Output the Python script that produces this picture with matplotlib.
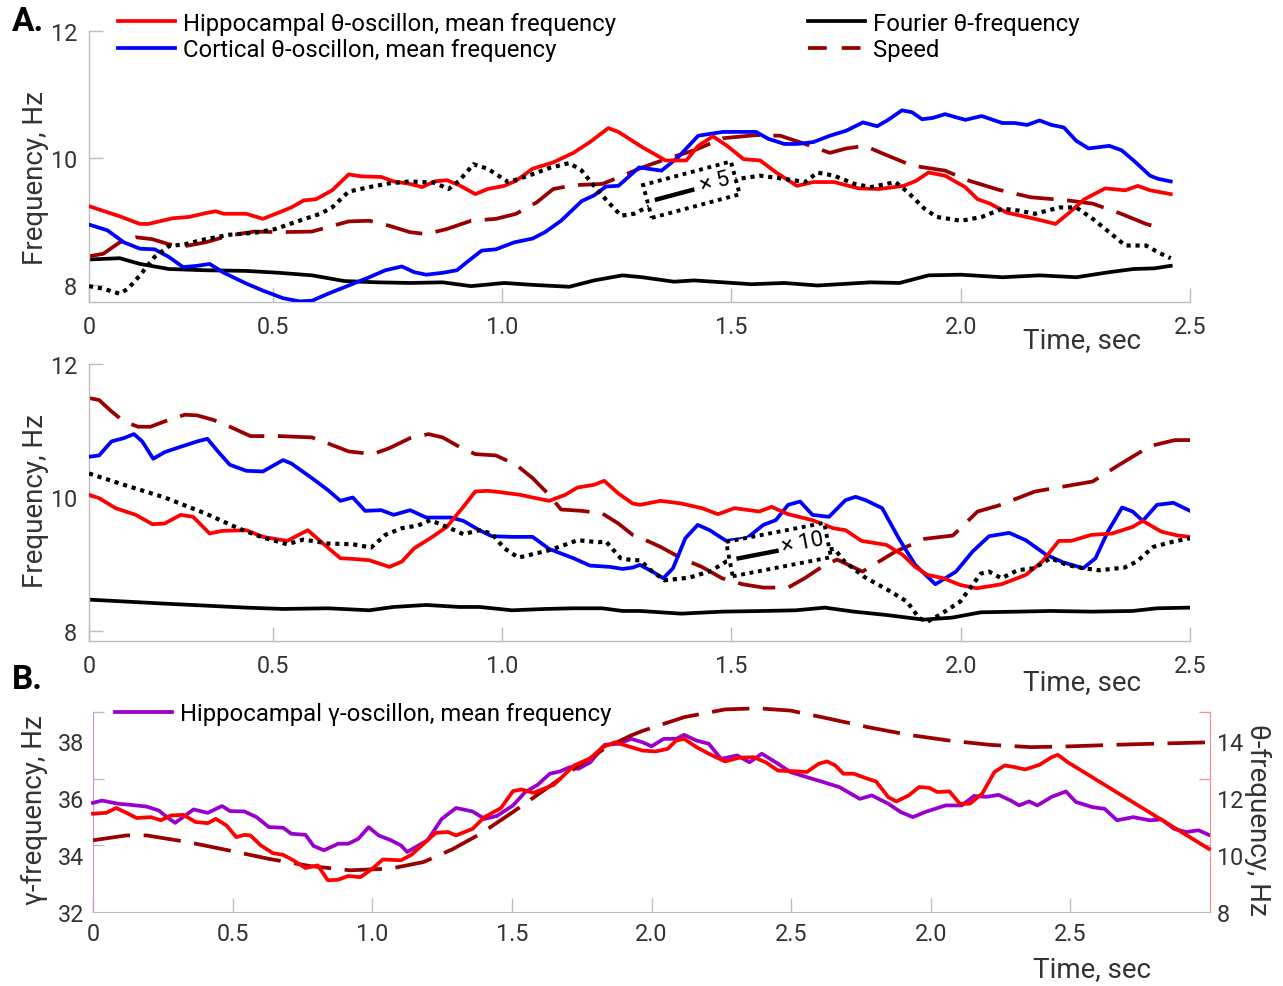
import matplotlib
matplotlib.use("Agg")
import matplotlib.pyplot as plt
import matplotlib.transforms as mtransforms
from matplotlib.lines import Line2D
from matplotlib.patches import Rectangle
from matplotlib.ticker import FixedLocator
import numpy as np

plt.rcParams['font.family'] = ['Roboto', 'DejaVu Sans']

# ---------------- data (time, value) ----------------
# Panel A (top): time in s, frequency in Hz
a1_hippo = [(0.100,9.24),(0.167,9.08),(0.211,8.96),(0.229,8.96),(0.283,9.05),(0.318,9.07),(0.354,9.13),(0.376,9.16),(0.394,9.12),(0.443,9.12),(0.479,9.04),(0.514,9.14),(0.541,9.22),(0.568,9.33),(0.595,9.35),(0.630,9.49),(0.666,9.74),(0.693,9.71),(0.737,9.70),(0.764,9.63),(0.800,9.59),(0.826,9.54),(0.853,9.63),(0.880,9.65),(0.907,9.57),(0.942,9.43),(0.969,9.51),(1.005,9.56),(1.031,9.64),(1.067,9.83),(1.112,9.93),(1.156,10.08),(1.192,10.25),(1.232,10.47),(1.254,10.41),(1.306,10.17),(1.357,9.96),(1.402,9.96),(1.428,10.19),(1.460,10.34),(1.491,10.19),(1.527,9.98),(1.563,9.96),(1.598,9.77),(1.643,9.56),(1.679,9.62),(1.724,9.62),(1.778,9.52),(1.822,9.51),(1.876,9.56),(1.903,9.64),(1.930,9.77),(1.966,9.72),(2.010,9.54),(2.037,9.35),(2.064,9.28),(2.100,9.14),(2.162,9.04),(2.207,8.96),(2.234,9.12),(2.270,9.35),(2.315,9.52),(2.359,9.49),(2.386,9.56),(2.413,9.49),(2.458,9.43)]
a1_cortex = [(0.100,8.95),(0.140,8.86),(0.176,8.67),(0.211,8.57),(0.243,8.56),(0.274,8.44),(0.305,8.28),(0.336,8.30),(0.363,8.33),(0.394,8.19),(0.443,8.02),(0.479,7.91),(0.523,7.79),(0.559,7.74),(0.586,7.75),(0.621,7.86),(0.666,7.99),(0.711,8.12),(0.746,8.23),(0.782,8.29),(0.809,8.20),(0.835,8.16),(0.871,8.19),(0.902,8.23),(0.924,8.36),(0.956,8.54),(0.987,8.56),(1.027,8.67),(1.067,8.73),(1.094,8.83),(1.129,9.01),(1.174,9.32),(1.201,9.41),(1.227,9.55),(1.254,9.56),(1.299,9.85),(1.348,9.80),(1.384,10.01),(1.428,10.35),(1.482,10.41),(1.554,10.41),(1.581,10.30),(1.616,10.22),(1.643,10.22),(1.679,10.25),(1.715,10.35),(1.751,10.43),(1.787,10.56),(1.818,10.50),(1.840,10.59),(1.872,10.75),(1.894,10.72),(1.916,10.61),(1.939,10.63),(1.966,10.69),(2.010,10.60),(2.046,10.66),(2.091,10.55),(2.118,10.55),(2.145,10.52),(2.172,10.59),(2.198,10.52),(2.225,10.48),(2.252,10.27),(2.279,10.15),(2.324,10.19),(2.351,10.12),(2.377,9.96),(2.413,9.72),(2.431,9.67),(2.458,9.63)]
a1_fourier = [(0.100,8.40),(0.167,8.42),(0.211,8.33),(0.274,8.25),(0.354,8.23),(0.443,8.22),(0.514,8.19),(0.586,8.15),(0.657,8.06),(0.728,8.04),(0.800,8.03),(0.871,8.04),(0.933,7.98),(1.005,8.03),(1.067,8.00),(1.147,7.97),(1.201,8.07),(1.263,8.15),(1.306,8.12),(1.375,8.05),(1.419,8.07),(1.545,8.01),(1.616,8.03),(1.688,7.99),(1.804,8.04),(1.867,8.03),(1.930,8.15),(2.001,8.16),(2.091,8.12),(2.172,8.15),(2.252,8.12),(2.324,8.20),(2.377,8.25),(2.422,8.26),(2.458,8.30)]
a1_scaled = [(0.100,7.98),(0.131,7.94),(0.167,7.86),(0.185,7.94),(0.211,8.15),(0.243,8.44),(0.274,8.61),(0.309,8.64),(0.354,8.72),(0.407,8.79),(0.461,8.82),(0.506,8.88),(0.550,8.99),(0.604,9.12),(0.630,9.22),(0.666,9.47),(0.711,9.54),(0.755,9.60),(0.800,9.63),(0.853,9.61),(0.884,9.51),(0.907,9.64),(0.938,9.90),(0.969,9.83),(1.014,9.62),(1.058,9.72),(1.103,9.84),(1.147,9.92),(1.174,9.80),(1.194,9.62),(1.210,9.48),(1.231,9.31),(1.260,9.09),(1.288,9.12),(1.310,9.20),(1.360,9.35),(1.420,9.50),(1.470,9.60),(1.515,9.67),(1.563,9.72),(1.616,9.67),(1.661,9.62),(1.688,9.77),(1.724,9.72),(1.769,9.59),(1.804,9.54),(1.858,9.62),(1.885,9.46),(1.921,9.20),(1.948,9.07),(2.001,9.01),(2.046,9.07),(2.091,9.20),(2.127,9.17),(2.162,9.12),(2.216,9.22),(2.252,9.22),(2.288,9.04),(2.324,8.83),(2.359,8.62),(2.404,8.62),(2.431,8.51),(2.458,8.42)]
a1_speed = [(0.100,8.45),(0.131,8.49),(0.167,8.67),(0.202,8.75),(0.238,8.72),(0.274,8.64),(0.309,8.61),(0.354,8.67),(0.407,8.78),(0.461,8.84),(0.514,8.83),(0.586,8.84),(0.621,8.91),(0.666,9.00),(0.711,9.01),(0.755,8.93),(0.800,8.83),(0.835,8.80),(0.880,8.88),(0.933,9.01),(0.987,9.04),(1.031,9.12),(1.076,9.30),(1.112,9.51),(1.156,9.57),(1.219,9.59),(1.263,9.72),(1.306,9.85),(1.357,9.98),(1.419,10.12),(1.482,10.31),(1.554,10.36),(1.607,10.35),(1.661,10.22),(1.715,10.08),(1.751,10.15),(1.791,10.19),(1.840,10.04),(1.894,9.88),(1.966,9.80),(2.019,9.64),(2.082,9.50),(2.153,9.38),(2.234,9.33),(2.288,9.28),(2.350,9.12),(2.404,8.96),(2.440,8.89)]

# Panel A (bottom)
a2_hippo = [(0.100,10.04),(0.122,9.99),(0.158,9.84),(0.202,9.74),(0.238,9.60),(0.265,9.61),(0.300,9.74),(0.327,9.71),(0.363,9.46),(0.390,9.50),(0.443,9.51),(0.479,9.41),(0.532,9.35),(0.577,9.51),(0.612,9.30),(0.648,9.09),(0.675,9.08),(0.711,9.06),(0.755,8.96),(0.782,9.04),(0.809,9.24),(0.844,9.39),(0.880,9.56),(0.916,9.86),(0.942,10.09),(0.969,10.10),(0.996,10.08),(1.040,10.04),(1.067,10.00),(1.103,9.95),(1.138,10.04),(1.165,10.15),(1.201,10.19),(1.223,10.25),(1.254,10.06),(1.285,9.91),(1.301,9.89),(1.346,9.95),(1.391,9.91),(1.436,9.84),(1.471,9.75),(1.507,9.84),(1.561,9.79),(1.588,9.86),(1.624,9.75),(1.677,9.66),(1.722,9.54),(1.749,9.51),(1.784,9.35),(1.838,9.29),(1.874,9.14),(1.901,8.96),(1.928,8.84),(1.963,8.79),(1.999,8.69),(2.035,8.64),(2.089,8.70),(2.142,8.84),(2.178,9.04),(2.214,9.35),(2.241,9.35),(2.285,9.44),(2.330,9.46),(2.375,9.56),(2.397,9.65),(2.437,9.49),(2.473,9.43),(2.500,9.41)]
a2_cortex = [(0.100,10.61),(0.122,10.63),(0.149,10.84),(0.176,10.89),(0.198,10.95),(0.216,10.84),(0.240,10.58),(0.265,10.68),(0.300,10.76),(0.336,10.84),(0.358,10.88),(0.381,10.69),(0.407,10.49),(0.443,10.40),(0.479,10.39),(0.523,10.56),(0.541,10.51),(0.586,10.29),(0.621,10.11),(0.648,9.95),(0.675,10.00),(0.702,9.80),(0.737,9.81),(0.764,9.74),(0.800,9.81),(0.835,9.70),(0.889,9.70),(0.916,9.65),(0.951,9.51),(0.978,9.42),(1.022,9.41),(1.067,9.41),(1.103,9.23),(1.156,9.09),(1.192,8.98),(1.236,8.96),(1.263,8.93),(1.285,8.95),(1.301,8.99),(1.328,8.89),(1.352,8.79),(1.373,8.94),(1.400,9.39),(1.427,9.59),(1.453,9.51),(1.489,9.35),(1.534,9.39),(1.570,9.59),(1.597,9.66),(1.624,9.89),(1.650,9.94),(1.677,9.74),(1.713,9.71),(1.749,9.96),(1.771,10.01),(1.793,9.96),(1.829,9.84),(1.865,9.39),(1.901,8.99),(1.945,8.70),(1.990,8.89),(2.026,9.19),(2.062,9.42),(2.106,9.47),(2.142,9.36),(2.187,9.14),(2.223,9.03),(2.267,8.94),(2.294,9.09),(2.321,9.49),(2.352,9.85),(2.375,9.79),(2.397,9.65),(2.428,9.89),(2.464,9.92),(2.500,9.80)]
a2_fourier = [(0.100,8.47),(0.265,8.41),(0.443,8.35),(0.523,8.33),(0.621,8.34),(0.711,8.31),(0.764,8.36),(0.835,8.39),(0.907,8.36),(0.951,8.36),(1.022,8.31),(1.094,8.33),(1.156,8.34),(1.219,8.34),(1.263,8.30),(1.301,8.30),(1.391,8.26),(1.480,8.29),(1.570,8.30),(1.641,8.31),(1.704,8.35),(1.767,8.29),(1.838,8.24),(1.919,8.17),(1.981,8.20),(2.044,8.28),(2.124,8.29),(2.196,8.30),(2.285,8.29),(2.375,8.30),(2.428,8.34),(2.500,8.35)]
a2_scaled = [(0.100,10.36),(0.176,10.19),(0.265,10.00),(0.354,9.76),(0.425,9.54),(0.479,9.40),(0.532,9.30),(0.568,9.37),(0.621,9.31),(0.675,9.30),(0.715,9.25),(0.746,9.44),(0.782,9.54),(0.817,9.58),(0.844,9.66),(0.880,9.56),(0.916,9.45),(0.951,9.51),(0.978,9.46),(1.005,9.24),(1.036,9.10),(1.067,9.15),(1.103,9.21),(1.129,9.27),(1.165,9.36),(1.210,9.33),(1.227,9.34),(1.259,9.09),(1.285,9.06),(1.301,9.06),(1.328,8.89),(1.355,8.76),(1.409,8.80),(1.456,8.90),(1.489,9.04),(1.550,9.10),(1.620,9.15),(1.680,9.20),(1.725,9.23),(1.747,9.04),(1.790,8.81),(1.845,8.60),(1.883,8.44),(1.910,8.19),(1.928,8.14),(1.954,8.24),(1.999,8.44),(2.044,8.86),(2.062,8.89),(2.089,8.79),(2.124,8.91),(2.160,8.94),(2.196,9.09),(2.232,8.99),(2.267,8.94),(2.303,8.91),(2.357,8.95),(2.384,9.04),(2.420,9.26),(2.464,9.34),(2.500,9.39)]
a2_speed = [(0.100,11.49),(0.122,11.46),(0.149,11.29),(0.176,11.14),(0.207,11.06),(0.234,11.06),(0.265,11.14),(0.309,11.24),(0.336,11.23),(0.372,11.16),(0.407,11.06),(0.452,10.92),(0.514,10.92),(0.586,10.90),(0.621,10.81),(0.666,10.69),(0.719,10.65),(0.755,10.74),(0.800,10.89),(0.840,10.95),(0.871,10.90),(0.907,10.76),(0.942,10.65),(0.987,10.63),(1.031,10.49),(1.067,10.29),(1.103,10.04),(1.129,9.82),(1.174,9.80),(1.219,9.76),(1.254,9.61),(1.285,9.44),(1.301,9.40),(1.346,9.26),(1.391,9.09),(1.436,8.96),(1.480,8.79),(1.525,8.70),(1.570,8.65),(1.624,8.65),(1.660,8.79),(1.704,8.99),(1.731,9.07),(1.786,8.89),(1.858,9.19),(1.921,9.38),(1.983,9.43),(2.037,9.79),(2.083,9.88),(2.162,10.09),(2.288,10.24),(2.341,10.47),(2.413,10.77),(2.467,10.86),(2.500,10.86)]

# Panel B: sample position, gamma (left axis) / theta (right axis)
b_gamma = [(0.000,35.82),(0.032,35.90),(0.090,35.79),(0.134,35.75),(0.192,35.69),(0.236,35.55),(0.265,35.32),(0.294,35.12),(0.331,35.38),(0.360,35.59),(0.411,35.47),(0.462,35.71),(0.491,35.53),(0.542,35.52),(0.586,35.32),(0.630,34.97),(0.681,34.95),(0.710,34.74),(0.761,34.70),(0.790,34.31),(0.827,34.16),(0.878,34.39),(0.914,34.39),(0.950,34.56),(0.987,34.97),(1.023,34.68),(1.067,34.51),(1.103,34.33),(1.125,34.10),(1.155,34.27),(1.198,34.51),(1.249,35.26),(1.300,35.64),(1.359,35.52),(1.402,35.26),(1.446,35.36),(1.504,35.73),(1.548,36.20),(1.592,36.45),(1.636,36.84),(1.672,36.92),(1.708,37.07),(1.738,37.01),(1.781,37.24),(1.832,37.85),(1.883,37.89),(1.927,38.06),(1.968,37.94),(2.000,37.80),(2.044,38.06),(2.088,38.06),(2.117,38.20),(2.161,38.00),(2.205,37.89),(2.249,37.36),(2.307,37.48),(2.351,37.24),(2.395,37.54),(2.453,37.19),(2.497,36.90),(2.556,36.72),(2.614,36.55),(2.673,36.37),(2.746,35.96),(2.789,36.08),(2.848,35.79),(2.892,35.50),(2.936,35.32),(2.980,35.50),(3.053,35.73),(3.111,35.73),(3.155,36.06),(3.199,36.03),(3.243,36.10),(3.287,35.90),(3.316,35.73),(3.352,35.87),(3.382,35.73),(3.433,36.03),(3.484,36.22),(3.520,35.85),(3.579,35.67),(3.623,35.61),(3.667,35.21),(3.725,35.32),(3.784,35.21),(3.827,35.24),(3.871,34.91),(3.915,34.80),(3.959,34.86),(3.996,34.70)]
b_theta = [(0.000,11.44),(0.047,11.47),(0.083,11.64),(0.120,11.47),(0.156,11.29),(0.207,11.32),(0.243,11.21),(0.280,11.38),(0.324,11.40),(0.367,11.15),(0.411,11.11),(0.440,11.26),(0.478,11.03),(0.513,10.62),(0.542,10.70),(0.564,10.68),(0.601,10.33),(0.644,10.06),(0.681,10.00),(0.717,9.81),(0.761,9.54),(0.805,9.63),(0.841,9.11),(0.878,9.13),(0.914,9.26),(0.958,9.22),(1.001,9.52),(1.038,9.84),(1.103,9.81),(1.140,10.00),(1.198,10.51),(1.227,10.77),(1.271,10.80),(1.300,10.68),(1.359,10.91),(1.402,11.32),(1.461,11.64),(1.504,12.23),(1.534,12.29),(1.577,12.17),(1.650,12.45),(1.723,13.13),(1.781,13.38),(1.825,13.77),(1.869,13.94),(1.927,13.77),(1.968,13.65),(2.015,13.62),(2.058,13.71),(2.088,14.00),(2.117,14.06),(2.161,13.77),(2.205,13.54),(2.263,13.27),(2.314,13.40),(2.366,13.42),(2.409,13.24),(2.453,12.95),(2.526,12.92),(2.556,12.90),(2.599,13.19),(2.629,13.27),(2.658,13.13),(2.687,12.84),(2.724,12.84),(2.775,12.66),(2.804,12.57),(2.848,12.02),(2.877,11.87),(2.921,12.08),(2.958,12.37),(2.994,12.35),(3.023,12.20),(3.067,12.22),(3.104,11.79),(3.140,11.79),(3.184,12.14),(3.228,12.90),(3.265,13.13),(3.301,13.07),(3.338,12.99),(3.389,13.15),(3.433,13.42),(3.455,13.50),(3.491,13.24),(3.996,10.21)]
b_speed = [(0.000,10.51),(0.120,10.68),(0.192,10.68),(0.338,10.45),(0.484,10.16),(0.630,9.86),(0.776,9.61),(0.921,9.46),(1.067,9.52),(1.184,9.75),(1.286,10.19),(1.388,10.74),(1.504,11.50),(1.606,12.20),(1.723,13.01),(1.840,13.77),(1.927,14.18),(1.971,14.35),(2.117,14.82),(2.263,15.09),(2.380,15.13),(2.497,15.05),(2.629,14.78),(2.775,14.47),(2.921,14.20),(3.067,14.00),(3.213,13.85),(3.360,13.77),(3.506,13.80),(3.652,13.85),(3.798,13.89),(4.003,13.94)]

# tick values / labels
a_xticks = [0.1, 0.5, 1.0, 1.5, 2.0, 2.5]
a_xticklabels = ['0', '0.5', '1.0', '1.5', '2.0', '2.5']
a_yticks = [8, 10, 12]
b_xticks = [0, 0.5, 1.0, 1.5, 2.0, 2.5, 3.0, 3.5]
b_xticklabels = ['0', '0.5', '1.0', '1.5', '2.0', '2.5', '2.0', '2.5']
b_gticks = [32, 34, 36, 38]
b_tticks = [8, 10, 12, 14]

lab_hippo = 'Hippocampal θ-oscillon, mean frequency'
lab_cortex = 'Cortical θ-oscillon, mean frequency'
lab_fourier = 'Fourier θ-frequency'
lab_speed = 'Speed'
lab_gamma = 'Hippocampal γ-oscillon, mean frequency'

# ---------------- styling ----------------
RED = '#ff0000'; BLUE = '#0000ff'; DRED = '#990000'; PURPLE = '#9a00cc'; BLACK = '#000000'
LW = 2.7
DASH = (0, (10, 3.6))
DOT = (0, (1, 1.15))
TICKC = '#333333'
SPC = '#bdbdbd'
FS = 16.8
LEGFS = 17.2
LFS = 20

W, H = 1283, 987
fig = plt.figure(figsize=(W / 100, H / 100), dpi=100)

def fr(l, t, r, b):
    return [l / W, 1 - b / H, (r - l) / W, (b - t) / H]

axA1 = fig.add_axes(fr(89, 32, 1190, 303))
axA2 = fig.add_axes(fr(89, 365, 1190, 642))
axB = fig.add_axes(fr(93, 713, 1210, 913))
axB2 = axB.twinx()

def xy(pairs):
    a = np.array(pairs, dtype=float)
    return a[:, 0], a[:, 1]

for ax, hip, cor, fou, sca, spd in [
        (axA1, a1_hippo, a1_cortex, a1_fourier, a1_scaled, a1_speed),
        (axA2, a2_hippo, a2_cortex, a2_fourier, a2_scaled, a2_speed)]:
    ax.plot(*xy(fou), color=BLACK, lw=LW, zorder=2)
    ax.plot(*xy(spd), color=DRED, lw=LW, linestyle=DASH, zorder=2)
    ax.plot(*xy(cor), color=BLUE, lw=LW, zorder=3)
    ax.plot(*xy(hip), color=RED, lw=LW, zorder=3)
    ax.plot(*xy(sca), color=BLACK, lw=LW + 0.3, linestyle=DOT, zorder=4)
    for s in ['top', 'right']:
        ax.spines[s].set_visible(False)
    for s in ['left', 'bottom']:
        ax.spines[s].set_color(SPC)
        ax.spines[s].set_linewidth(1.0)
    ax.set_xlim(0.1, 2.5)
    ax.set_xticks(a_xticks)
    ax.set_xticklabels(a_xticklabels)
    ax.set_yticks(a_yticks)
    ax.tick_params(axis='both', direction='in', length=10, width=1, color=SPC,
                   labelsize=FS, labelcolor=TICKC)
    ax.tick_params(axis='x', pad=9.5)
    ax.tick_params(axis='y', pad=8.5)
    ax.set_ylabel('Frequency, Hz', fontsize=LFS, color=TICKC)
    ax.set_xlabel('Time, sec', fontsize=LFS, color=TICKC)

axA1.set_ylim(7.73, 12.0)
axA2.set_ylim(7.85, 12.0)
axA1.yaxis.set_label_coords(-0.049, 0.46)
axA2.yaxis.set_label_coords(-0.049, 0.51)
axA1.xaxis.set_label_coords(0.902, -0.137)
axA2.xaxis.set_label_coords(0.902, -0.148)
for ax in (axA1, axA2):
    ax.xaxis.label.set_va('center')
    ax.yaxis.label.set_va('center')

# scale-factor boxes
def scale_box(ax, cx, cy, w, h, ang, u0, u1, v, txt, tu, tv):
    tr = mtransforms.Affine2D().rotate_deg(ang) + mtransforms.ScaledTranslation(cx, cy, ax.transData)
    rect = Rectangle((-w / 2, -h / 2), w, h, transform=tr, facecolor='white',
                     edgecolor='black', linestyle=(0, (1, 1.2)), lw=2.8, zorder=6, clip_on=False)
    ax.add_patch(rect)
    ax.add_line(Line2D([u0, u1], [v, v], transform=tr, color='black', lw=3.2,
                       solid_capstyle='butt', zorder=7, clip_on=False))
    ax.text(tu, tv, txt, transform=tr, rotation=ang, rotation_mode='anchor',
            ha='center', va='center', fontsize=16, color='black', zorder=8)

scale_box(axA1, 1.413, 9.50, 91, 34, 15, -38, 3, -0.5, '× 5', 25, 1)
scale_box(axA2, 1.603, 9.22, 100, 35, 11, -43, 0, -1, '× 10', 25, 2)

# Panel B
axB.plot(*xy(b_gamma), color=PURPLE, lw=LW, clip_on=False, zorder=3)
axB2.plot(*xy(b_speed), color=DRED, lw=LW, linestyle=DASH, clip_on=False, zorder=2)
axB2.plot(*xy(b_theta), color=RED, lw=LW, clip_on=False, zorder=3)
axB.set_xlim(0, 4.0)
axB.set_ylim(32, 39)
axB2.set_ylim(8, 15)
axB.set_xticks(b_xticks)
axB.set_xticklabels(b_xticklabels)
axB.set_yticks(b_gticks)
axB2.set_yticks(b_tticks)
axB.yaxis.set_minor_locator(FixedLocator(list(np.linspace(32, 39, 4))))
axB2.yaxis.set_minor_locator(FixedLocator(list(np.linspace(8, 15, 4))))
axB.tick_params(axis='x', direction='in', length=10, width=1, color=SPC,
                labelsize=FS, labelcolor=TICKC, pad=7.5)
axB.tick_params(axis='y', which='major', length=0, labelsize=FS, labelcolor=TICKC, pad=6.5)
axB.tick_params(axis='y', which='minor', direction='in', length=8, width=1, color=SPC)
axB2.tick_params(axis='y', which='major', length=0, labelsize=FS, labelcolor=TICKC, pad=5)
axB2.tick_params(axis='y', which='minor', direction='in', length=8, width=1, color='#ff9090')
axB.spines['top'].set_visible(False)
axB.spines['right'].set_visible(False)
axB.spines['left'].set_color('#c792e6')
axB.spines['bottom'].set_color(SPC)
for s in ['top', 'left', 'bottom']:
    axB2.spines[s].set_visible(False)
axB2.spines['right'].set_color('#ff8a8a')
axB.set_ylabel('γ-frequency, Hz', fontsize=LFS, color=TICKC)
axB.yaxis.set_label_coords(-0.052, 0.515)
axB2.set_ylabel('θ-frequency, Hz', fontsize=LFS, color=TICKC, rotation=-90)
axB2.yaxis.set_label_coords(1.043, 0.465)
axB2.yaxis.label.set_va('center')
axB.yaxis.label.set_va('center')
axB.set_xlabel('Time, sec', fontsize=LFS, color=TICKC)
axB.xaxis.set_label_coords(0.894, -0.285)
axB.xaxis.label.set_va('center')

# legends
leg_kw = dict(loc='upper left', frameon=False, fontsize=LEGFS, handlelength=2.4,
              handletextpad=0.33, labelspacing=0.16, borderpad=0, borderaxespad=0)
fig.legend([Line2D([], [], color=RED, lw=LW), Line2D([], [], color=BLUE, lw=LW)],
           [lab_hippo, lab_cortex], bbox_to_anchor=(118 / W, 1 - 12.5 / H), **leg_kw)
fig.legend([Line2D([], [], color=BLACK, lw=LW), Line2D([], [], color=DRED, lw=LW, linestyle=(0, (5, 4)))],
           [lab_fourier, lab_speed], bbox_to_anchor=(808 / W, 1 - 12.5 / H), **leg_kw)
fig.legend([Line2D([], [], color=PURPLE, lw=LW)], [lab_gamma],
           bbox_to_anchor=(115 / W, 1 - 703 / H), **leg_kw)

fig.text(12 / W, 1 - 22 / H, 'A.', fontsize=24, fontweight='bold', va='center', ha='left')
fig.text(12 / W, 1 - 680 / H, 'B.', fontsize=24, fontweight='bold', va='center', ha='left')

fig.savefig('out.png', dpi=100)
